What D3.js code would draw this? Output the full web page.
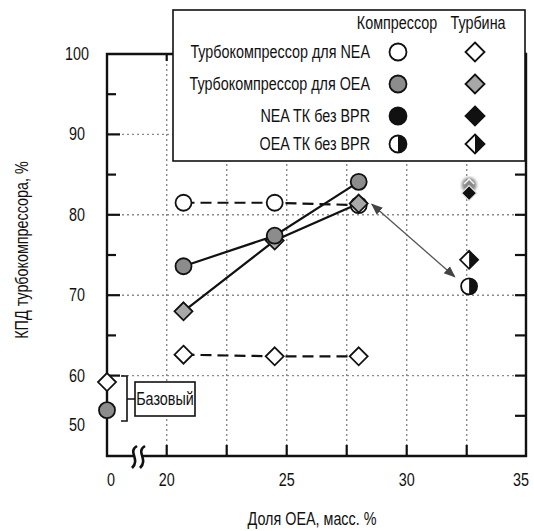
<!DOCTYPE html>
<html><head><meta charset="utf-8">
<script src="https://cdn.jsdelivr.net/npm/d3@7"></script>
<style>
body{margin:0;background:#fff;}
text{font-family:"Liberation Sans",Arial,Helvetica,sans-serif;fill:#111;}
</style></head>
<body><svg id="c" width="534" height="531"></svg>
<script>
// ---- data ----
const oeaShare = [20.7, 24.5, 28.0];
const neaCompressor = [81.5, 81.5, 81.2];
const neaTurbine = [62.6, 62.4, 62.4];
const oeaCompressor = [73.6, 77.4, 84.1];
const oeaTurbine = [68.0, 76.8, 81.4];
const noBprShare = 32.6;
const neaNoBpr = {compressor: 83.7, turbine: 82.7};
const oeaNoBpr = {compressor: 71.1, turbine: 74.4};
const baseline = {compressor: 52.7, turbine: 57.8};
const arrowFrom = [28.55, 81.3], arrowTo = [32.0, 72.3];
const xTicks = [20, 25, 30, 35];
const xMinor = [20, 22.5, 25, 27.5, 30, 32.5];
const yTicks = [60, 70, 80, 90, 100];
const yMinor = [65, 75, 85, 95];
const gridY = [60, 70, 80, 90];
const rightTicks = [55, 60, 65, 70, 75, 80, 85, 90, 95];
const legendRows = ["Турбокомпрессор для NEA", "Турбокомпрессор для OEA", "NEA ТК без BPR", "OEA ТК без BPR"];
const legendHeads = ["Компрессор", "Турбина"];

const svg = d3.select("#c");
const L = 107, R = 526, T = 54, B = 456;
const x = d3.scaleLinear().domain([20, 35]).range([166.7, 526.7]);
const y = d3.scaleLinear().domain([50, 100]).range([B, T]);
const yBase = d3.scaleLinear().domain([50, 60]).range([425, 370]);

const GRAY = "#8c8c8c", LGRAY = "#a8a8a8";
const r = 8, dd = 9;
const FS = 17.5, SX = 0.82;
const diamond = (cx, cy, s) => `M${cx},${cy - s}L${cx + s},${cy}L${cx},${cy + s}L${cx - s},${cy}Z`;
// narrow text helper (condensed Helvetica look)
function ntext(sel, tx, ty, str, anchor, extra) {
  return sel.append("text")
    .attr("transform", `translate(${tx},${ty})${extra || ""} scale(${SX},1)`)
    .attr("text-anchor", anchor || "middle").attr("font-size", FS).text(str);
}

// gridlines
const g = svg.append("g");
g.selectAll(".gv").data(xMinor).join("line")
  .attr("x1", d => x(d)).attr("x2", d => x(d)).attr("y1", B).attr("y2", T)
  .attr("stroke", "#8a8a8a").attr("stroke-width", 1.4).attr("stroke-dasharray", "2,3");
g.selectAll(".gh").data(gridY).join("line")
  .attr("x1", L).attr("x2", R).attr("y1", d => y(d)).attr("y2", d => y(d))
  .attr("stroke", "#8a8a8a").attr("stroke-width", 1.4).attr("stroke-dasharray", "2,3");

// ticks
g.selectAll(".tb").data(xMinor).join("line")
  .attr("x1", d => x(d)).attr("x2", d => x(d)).attr("y1", B).attr("y2", B - 11)
  .attr("stroke", "#111").attr("stroke-width", 2.2);
g.append("line").attr("x1", x(20)).attr("x2", x(20)).attr("y1", T).attr("y2", T + 7)
  .attr("stroke", "#111").attr("stroke-width", 2.2);
g.selectAll(".tl").data(yTicks.filter(d => d < 100)).join("line")
  .attr("x1", L).attr("x2", L + 13).attr("y1", d => y(d)).attr("y2", d => y(d))
  .attr("stroke", "#111").attr("stroke-width", 2.2);
g.selectAll(".tlm").data(yMinor).join("line")
  .attr("x1", L).attr("x2", L + 9).attr("y1", d => y(d)).attr("y2", d => y(d))
  .attr("stroke", "#111").attr("stroke-width", 2.2);
g.selectAll(".tr").data(rightTicks).join("line")
  .attr("x1", R).attr("x2", R - 11).attr("y1", d => y(d)).attr("y2", d => y(d))
  .attr("stroke", "#111").attr("stroke-width", 2.2);

// frame
g.append("path").attr("d", `M${L},${T}L${R},${T}L${R},${B}L${L},${B}Z`)
  .attr("fill", "none").attr("stroke", "#111").attr("stroke-width", 2.4);

// axis break squiggles
const bx = 138;
g.append("rect").attr("x", bx - 5).attr("y", B - 3).attr("width", 10).attr("height", 6).attr("fill", "#fff");
[-4, 4].forEach(o => {
  g.append("path")
    .attr("d", `M${bx + o + 3},${B - 10} C${bx + o - 7},${B - 4} ${bx + o + 7},${B + 3} ${bx + o - 2},${B + 12}`)
    .attr("fill", "none").attr("stroke", "#111").attr("stroke-width", 2.6);
});

// tick labels
const tl = svg.append("g");
xTicks.forEach(d => ntext(tl, Math.min(x(d), 521), 486, d));
ntext(tl, L + 4, 486, "0");
yTicks.forEach(d => ntext(tl, 77, y(d) + 6, d));
ntext(tl, 77, yBase(50) + 6, "50");

// axis titles
ntext(svg, 312, 525, "Доля OEA, масс. %");
ntext(svg, 28, 250, "КПД турбокомпрессора, %", "middle", " rotate(-90)");

// lines
const line = d3.line().x(d => x(d[0])).y(d => y(d[1]));
const pts = arr => oeaShare.map((s, i) => [s, arr[i]]);
svg.append("path").attr("d", line(pts(neaCompressor))).attr("fill", "none").attr("stroke", "#111")
  .attr("stroke-width", 2.2).attr("stroke-dasharray", "11,6");
svg.append("path").attr("d", line(pts(neaTurbine))).attr("fill", "none").attr("stroke", "#111")
  .attr("stroke-width", 2.2).attr("stroke-dasharray", "11,6");
svg.append("path").attr("d", line(pts(oeaCompressor))).attr("fill", "none").attr("stroke", "#111").attr("stroke-width", 2.2);
svg.append("path").attr("d", line(pts(oeaTurbine))).attr("fill", "none").attr("stroke", "#111").attr("stroke-width", 2.2);

// arrow
const defs = svg.append("defs");
defs.append("marker").attr("id", "ah").attr("viewBox", "0 0 10 10").attr("refX", 9).attr("refY", 5)
  .attr("markerWidth", 9).attr("markerHeight", 9).attr("orient", "auto-start-reverse")
  .append("path").attr("d", "M0,1L10,5L0,9Z").attr("fill", "#444");
defs.append("filter").attr("id", "blur").append("feGaussianBlur").attr("stdDeviation", 1.5);
svg.append("line").attr("x1", x(arrowFrom[0])).attr("y1", y(arrowFrom[1]))
  .attr("x2", x(arrowTo[0])).attr("y2", y(arrowTo[1]))
  .attr("stroke", "#555").attr("stroke-width", 1.3)
  .attr("marker-start", "url(#ah)").attr("marker-end", "url(#ah)");

// markers
const circ = (cx, cy, fill) => svg.append("circle").attr("cx", cx).attr("cy", cy).attr("r", r)
  .attr("fill", fill).attr("stroke", "#111").attr("stroke-width", 1.8);
const dia = (cx, cy, fill, sw) => svg.append("path").attr("d", diamond(cx, cy, dd))
  .attr("fill", fill).attr("stroke", "#111").attr("stroke-width", sw || 1.8);
const halfCirc = (cx, cy) => {
  circ(cx, cy, "#fff");
  svg.append("path").attr("d", `M${cx},${cy - r}A${r},${r} 0 0 1 ${cx},${cy + r}Z`).attr("fill", "#111");
};
const halfDia = (cx, cy) => {
  dia(cx, cy, "#fff");
  svg.append("path").attr("d", `M${cx},${cy - dd}L${cx + dd},${cy}L${cx},${cy + dd}Z`).attr("fill", "#111");
};

oeaShare.forEach((s, i) => circ(x(s), y(neaCompressor[i]), "#fff"));
oeaShare.forEach((s, i) => dia(x(s), y(neaTurbine[i]), "#fff"));
oeaShare.forEach((s, i) => dia(x(s), y(oeaTurbine[i]), LGRAY));
oeaShare.forEach((s, i) => circ(x(s), y(oeaCompressor[i]), GRAY));

// no-BPR points
const nx = x(noBprShare);
svg.append("circle").attr("cx", nx).attr("cy", y(neaNoBpr.compressor)).attr("r", 7.5)
  .attr("fill", "#8a8a8a").attr("filter", "url(#blur)");
svg.append("path").attr("d", `M${nx - 5},${y(neaNoBpr.compressor) - 1}L${nx},${y(neaNoBpr.compressor) - 6}L${nx + 5},${y(neaNoBpr.compressor) - 1}`)
  .attr("fill", "none").attr("stroke", "#f2f2f2").attr("stroke-width", 1.6);
svg.append("path").attr("d", diamond(nx, y(neaNoBpr.turbine), 7.5))
  .attr("fill", "#111").attr("stroke", "#e8e8e8").attr("stroke-width", 1.2);
halfDia(nx, y(oeaNoBpr.turbine));
halfCirc(nx, y(oeaNoBpr.compressor));

// baseline points
dia(L, yBase(baseline.turbine), "#fff");
circ(L, yBase(baseline.compressor), GRAY);

// baseline brace and box
svg.append("path").attr("d", `M121,376L127,376L127,421L121,421M127,399L135,399`)
  .attr("fill", "none").attr("stroke", "#111").attr("stroke-width", 1.6);
svg.append("rect").attr("x", 135).attr("y", 382).attr("width", 60).attr("height", 34)
  .attr("fill", "#fff").attr("stroke", "#111").attr("stroke-width", 1.6);
ntext(svg, 165, 405, "Базовый");

// legend
const lg = svg.append("g");
lg.append("rect").attr("x", 173).attr("y", 10).attr("width", 352).attr("height", 151)
  .attr("fill", "#fff").attr("stroke", "#111").attr("stroke-width", 1.6);
const colX = [398, 475];
ntext(lg, 397, 29, legendHeads[0]);
ntext(lg, 478, 29, legendHeads[1]);
const rowY = [52, 84, 116, 144];
legendRows.forEach((d, i) => ntext(lg, 370, rowY[i] + 6, d, "end"));
const lc = (cx, cy, fill) => lg.append("circle").attr("cx", cx).attr("cy", cy).attr("r", 8.5)
  .attr("fill", fill).attr("stroke", "#111").attr("stroke-width", 1.8);
const ld = (cx, cy, fill) => lg.append("path").attr("d", diamond(cx, cy, 9.5))
  .attr("fill", fill).attr("stroke", "#111").attr("stroke-width", 1.8);
lc(colX[0], rowY[0], "#fff"); ld(colX[1], rowY[0], "#fff");
lc(colX[0], rowY[1], GRAY); ld(colX[1], rowY[1], LGRAY);
lc(colX[0], rowY[2], "#111"); ld(colX[1], rowY[2], "#111");
lc(colX[0], rowY[3], "#fff");
lg.append("path").attr("d", `M${colX[0]},${rowY[3] - 8.5}A8.5,8.5 0 0 1 ${colX[0]},${rowY[3] + 8.5}Z`).attr("fill", "#111");
ld(colX[1], rowY[3], "#fff");
lg.append("path").attr("d", `M${colX[1]},${rowY[3] - 9.5}L${colX[1] + 9.5},${rowY[3]}L${colX[1]},${rowY[3] + 9.5}Z`).attr("fill", "#111");
</script></body></html>
